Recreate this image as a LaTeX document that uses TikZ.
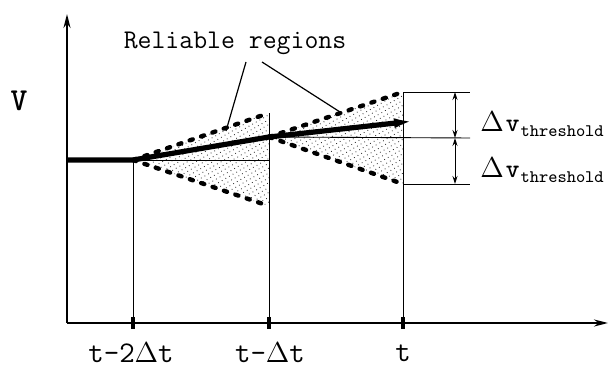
\documentclass[tikz,border=0pt]{standalone}
\usepackage{fontspec}
\usetikzlibrary{arrows.meta,patterns.meta}
\tikzset{
  axis/.style={line width=1pt, -{Stealth[length=7pt, width=3.5pt]}},
  band/.style={pattern={Dots[radius=0.3pt, distance=2.1pt, angle=30]}, pattern color=black!80},
  edge/.style={line width=2.2pt, dash pattern=on 1.6pt off 4.4pt, line cap=round},
  trend/.style={line width=2.6pt, line join=round},
  guide/.style={line width=0.45pt},
  dim/.style={line width=0.45pt, {Stealth[length=4pt, width=2.5pt]}-{Stealth[length=4pt, width=2.5pt]}},
  lbl/.style={font=\ttfamily\fontsize{15}{16}\selectfont, inner sep=0pt},
  tick/.style={line width=1.6pt},
}
\newcommand{\dv}{$\Delta$\kern1pt{\fontsize{13}{14}\selectfont\bfseries v}\kern0.5pt\raisebox{-2.5pt}{\fontsize{8.8}{10}\selectfont threshold}}
\begin{document}
\begin{tikzpicture}[x=0.5pt, y=-0.5pt]
  \useasboundingbox (0,0) rectangle (609,367);
  % points of the trend and the two wedges
  \coordinate (O) at (67,323);
  \coordinate (ytop) at (67,14);
  \coordinate (xend) at (608,323);
  \coordinate (v0) at (67,160);
  \coordinate (p0) at (133,160);
  \coordinate (p1) at (269,137);
  \coordinate (p2) at (414,121);
  \coordinate (u1) at (269,113);
  \coordinate (l1) at (269,206);
  \coordinate (u2) at (403,92);
  \coordinate (l2) at (403,184);
  \coordinate (m1) at (269,160);
  \coordinate (du) at (470,92);
  \coordinate (dm) at (470,138);
  \coordinate (dl) at (470,184);
  \coordinate (au) at (455,92);
  \coordinate (am) at (455,138);
  \coordinate (al) at (455,184);
  \coordinate (b0) at (133,323);
  \coordinate (b1) at (269,323);
  \coordinate (b2) at (403,323);
  % shaded regions
  \fill[band] (p0) -- (u1) -- (l1) -- cycle;
  \fill[band] (p1) -- (u2) -- (l2) -- cycle;
  % axes
  \draw[axis] (O) -- (ytop);
  \draw[axis] (O) -- (xend);
  \foreach \b in {b0,b1,b2} \draw[tick] ([yshift=3pt]\b) -- ([yshift=-3pt]\b);
  % guide lines
  \draw[guide] (b0) -- (p0);
  \draw[guide] (b1) -- (u1);
  \draw[guide] (b2) -- (u2);
  \draw[guide] (p0) -- (m1);
  \draw[guide] (p1) -- (dm);
  \draw[guide] (u2) -- (du);
  \draw[guide] (l2) -- (dl);
  \draw[dim] (au) -- (am);
  \draw[dim] (am) -- (al);
  % wedge borders
  \draw[edge] (p0) -- (u1);
  \draw[edge] (p0) -- (l1);
  \draw[edge] (p1) -- (u2);
  \draw[edge] (p1) -- (l2);
  % trend
  \draw[trend] (v0) -- (p0) -- (p1);
  \draw[trend, -{Latex[length=10pt, width=5pt]}] (p1) -- (p2);
  % labels
  \node[lbl, font=\ttfamily\fontsize{13.5}{14}\selectfont] (rel) at (235,43) {Reliable regions};
  \coordinate (r1) at (246,62);
  \coordinate (r2) at (262,62);
  \coordinate (h1) at (226,131);
  \coordinate (h2) at (340,112);
  \draw[guide, line width=0.6pt] (r1) -- (h1);
  \draw[guide, line width=0.6pt] (r2) -- (h2);
  \node[lbl, font=\ttfamily\bfseries\fontsize{16}{17}\selectfont] (vlab) at (19,101) {V};
  \node[lbl, anchor=west] (dvu) at (480,124) {\dv};
  \node[lbl, anchor=west] (dvl) at (480,170) {\dv};
  \node[lbl] (t2) at (131,353) {t-2$\Delta$t};
  \node[lbl] (t1) at (270,353) {t-$\Delta$t};
  \node[lbl] (t0) at (403,353) {t};
\end{tikzpicture}
\end{document}
